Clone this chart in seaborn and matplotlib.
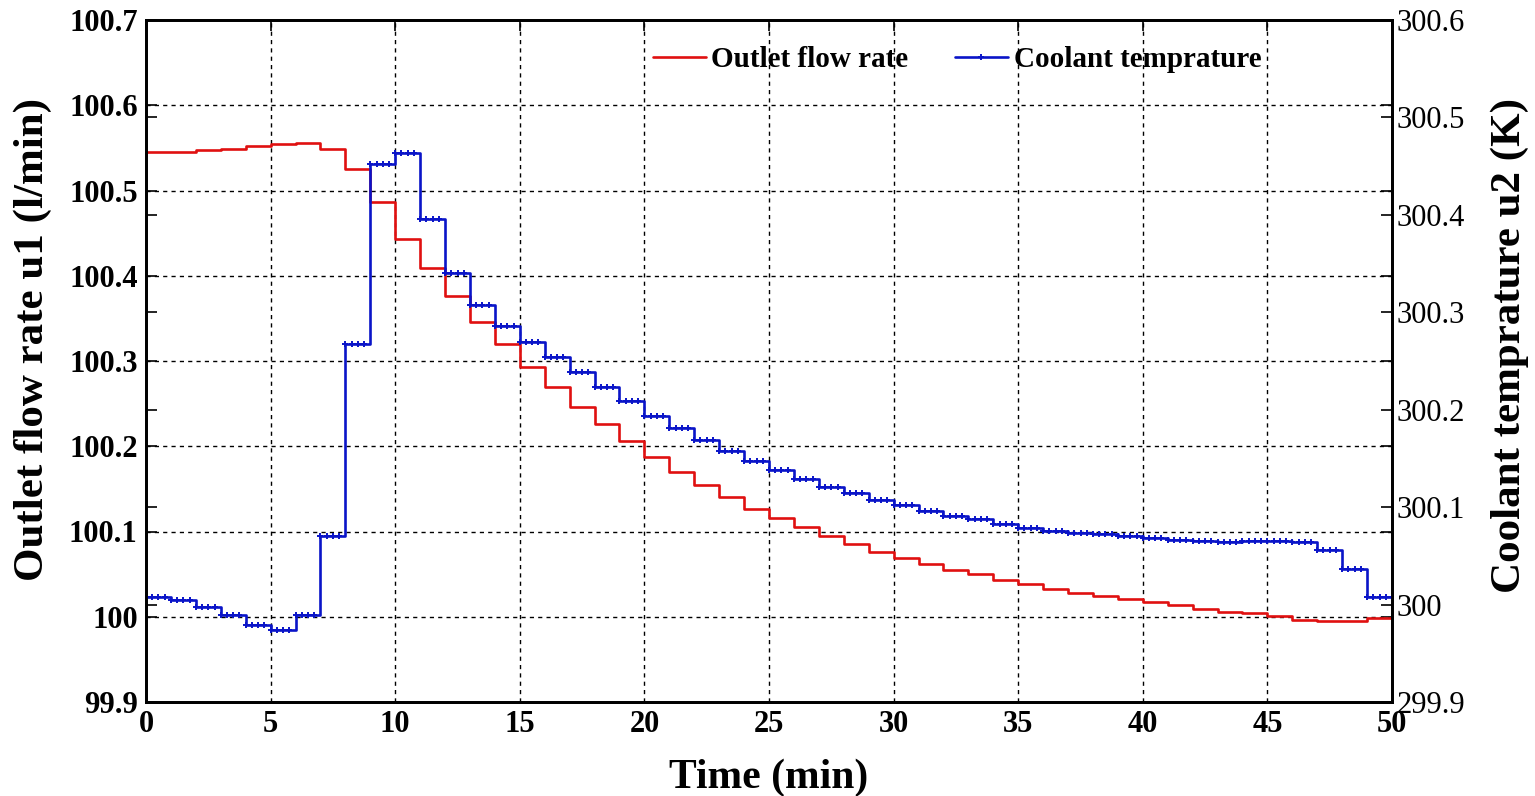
import numpy as np
import pandas as pd
import seaborn as sns
import matplotlib.pyplot as plt

# one value per minute, held until the next minute (zero-order hold)
minutes = list(range(50))
flow_rate = [100.545, 100.545, 100.547, 100.549, 100.552, 100.554, 100.556, 100.549,
             100.525, 100.486, 100.443, 100.409, 100.376, 100.346, 100.320, 100.293,
             100.270, 100.246, 100.226, 100.206, 100.187, 100.170, 100.155, 100.140,
             100.126, 100.116, 100.105, 100.095, 100.085, 100.076, 100.069, 100.062,
             100.055, 100.050, 100.043, 100.038, 100.033, 100.028, 100.024, 100.021,
             100.017, 100.014, 100.009, 100.006, 100.004, 100.001, 99.996, 99.995,
             99.995, 99.998]
coolant_temp = [300.008, 300.005, 299.998, 299.989, 299.979, 299.974, 299.989, 300.070,
                300.267, 300.452, 300.463, 300.396, 300.340, 300.307, 300.286, 300.269,
                300.254, 300.239, 300.223, 300.209, 300.194, 300.181, 300.169, 300.158,
                300.147, 300.138, 300.129, 300.121, 300.115, 300.107, 300.102, 300.096,
                300.091, 300.088, 300.083, 300.079, 300.076, 300.073, 300.072, 300.070,
                300.068, 300.066, 300.065, 300.064, 300.065, 300.065, 300.064, 300.056,
                300.037, 300.008]

# red: extend last value to t=50 so the step reaches the right edge
red = pd.DataFrame({"t": minutes + [50], "u1": flow_rate + [flow_rate[-1]]})
# blue: sampled 4 times per minute (markers on each step)
t_fine = np.arange(0, 50.001, 0.25)
idx = np.minimum(t_fine.astype(int), 49)
blue = pd.DataFrame({"t": t_fine, "u2": np.array(coolant_temp)[idx]})

sns.set_style("white")
plt.rcParams['font.family'] = ['Liberation Serif', 'DejaVu Serif']
plt.rcParams.update({"text.color": "black", "axes.labelcolor": "black",
                     "xtick.color": "black", "ytick.color": "black"})

fig = plt.figure(figsize=(15.35, 7.96), dpi=100)
ax1 = fig.add_axes([146/1535, 94/796, 1246/1535, 682/796])
ax2 = ax1.twinx()

sns.lineplot(data=red, x="t", y="u1", ax=ax1, drawstyle="steps-post",
             color="#e01010", linewidth=1.9, estimator=None, label="Outlet flow rate",
             legend=False)
sns.lineplot(data=blue, x="t", y="u2", ax=ax2, drawstyle="steps-post",
             color="#0a14c8", linewidth=1.9, marker="+", markersize=4.5, mew=1.4,
             markeredgecolor="#0a14c8", estimator=None, label="Coolant temprature",
             legend=False)

ax1.set_xlim(0, 50)
ax1.set_ylim(99.9, 100.7)
ax2.set_ylim(299.9, 300.6)
ax1.set_xticks(range(0, 51, 5))
ax1.set_yticks(np.round(np.arange(99.9, 100.71, 0.1), 1))
ax1.set_yticklabels(["99.9", "100", "100.1", "100.2", "100.3", "100.4", "100.5", "100.6", "100.7"])
ax2.set_yticks(np.round(np.arange(299.9, 300.61, 0.1), 1))
ax2.set_yticklabels(["299.9", "300", "300.1", "300.2", "300.3", "300.4", "300.5", "300.6"])

ax1.grid(True, color="black", linestyle=(0, (3, 3)), linewidth=1.0)
ax2.grid(False)

ax1.tick_params(axis="both", direction="in", length=8, width=1.2, labelsize=22,
                right=True, top=True, pad=6)
ax2.tick_params(axis="y", direction="in", length=8, width=1.2, labelsize=22,
                left=True, pad=3)
for lab in ax1.get_xticklabels() + ax1.get_yticklabels():
    lab.set_fontweight("bold")

for ax in (ax1, ax2):
    for sp in ax.spines.values():
        sp.set_linewidth(2)
        sp.set_color("black")

ax1.set_xlabel("Time (min)", fontsize=30, fontweight="bold", labelpad=14)
ax1.set_ylabel("Outlet flow rate u1 (l/min)", fontsize=31, fontweight="bold")
ax2.set_ylabel("Coolant temprature u2 (K)", fontsize=31, fontweight="bold")
ax1.yaxis.set_label_coords(-0.0754, 0.532)
ax2.yaxis.set_label_coords(1.0787, 0.523)

h1, l1 = ax1.get_legend_handles_labels()
h2, l2 = ax2.get_legend_handles_labels()
leg = ax2.legend(h1 + h2, l1 + l2, loc="center", bbox_to_anchor=(0.651, 0.942),
                 ncol=2, frameon=False, handlelength=1.8, handletextpad=0.2,
                 columnspacing=1.6, prop={"size": 21, "weight": "bold"})

fig.savefig("out.png", dpi=100)
